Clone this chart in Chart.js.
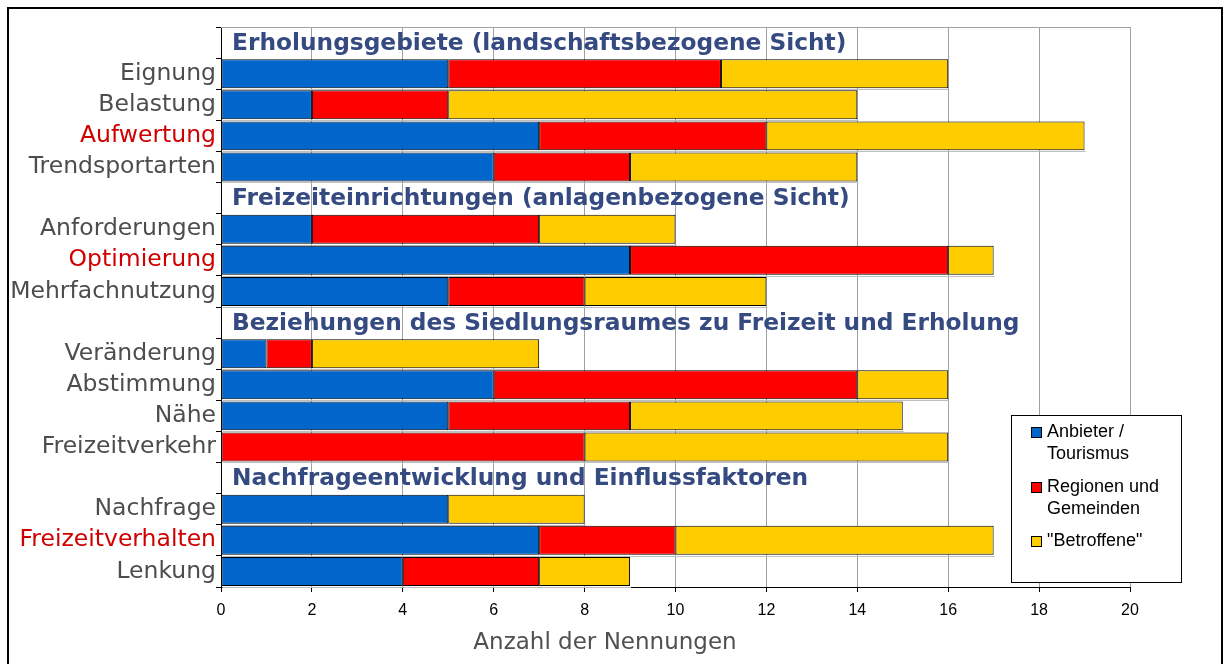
<!DOCTYPE html>
<html>
<head>
<meta charset="utf-8">
<script src="https://cdn.jsdelivr.net/npm/chart.js@4/dist/chart.umd.min.js"></script>
<style>
html,body{margin:0;padding:0;background:#fff;overflow:hidden;}
#wrap{position:absolute;left:0;top:0;width:1227px;height:664px;}
</style>
</head>
<body>
<div id="wrap"><canvas id="c" width="1227" height="664"></canvas></div>
<script>
// ---- data ----
const categories = [
  'Erholungsgebiete (landschaftsbezogene Sicht)',
  'Eignung', 'Belastung', 'Aufwertung', 'Trendsportarten',
  'Freizeiteinrichtungen (anlagenbezogene Sicht)',
  'Anforderungen', 'Optimierung', 'Mehrfachnutzung',
  'Beziehungen des Siedlungsraumes zu Freizeit und Erholung',
  'Veränderung', 'Abstimmung', 'Nähe', 'Freizeitverkehr',
  'Nachfrageentwicklung und Einflussfaktoren',
  'Nachfrage', 'Freizeitverhalten', 'Lenkung'
];
const headerRows = [0, 5, 9, 14];
const highlighted = ['Aufwertung', 'Optimierung', 'Freizeitverhalten'];
const seriesNames = [['Anbieter /', 'Tourismus'], ['Regionen und', 'Gemeinden'], ['"Betroffene"']];
const anbieter =  [null, 5, 2, 7, 6, null, 2, 9, 5, null, 1, 6, 5, 0, null, 5, 7, 4];
const regionen =  [null, 6, 3, 5, 3, null, 5, 7, 3, null, 1, 8, 4, 8, null, 0, 3, 3];
const betroffene = [null, 5, 9, 7, 5, null, 3, 1, 4, null, 5, 2, 6, 8, null, 3, 7, 2];
const xTicks = [0, 2, 4, 6, 8, 10, 12, 14, 16, 18, 20];
const xTitle = 'Anzahl der Nennungen';

const colors = ['#0066CC', '#FF0000', '#FFCC00'];

const extras = {
  id: 'extras',
  beforeDatasetsDraw(chart) {
    const ctx = chart.ctx, a = chart.chartArea;
    ctx.save();
    ctx.strokeStyle = '#A0A0A0';
    ctx.lineWidth = 1;
    ctx.beginPath();
    ctx.moveTo(a.left, a.top + 0.5);
    ctx.lineTo(a.right, a.top + 0.5);
    ctx.stroke();
    // bar shadows (from the library's bar elements)
    ctx.strokeStyle = '#BEBEBE';
    chart.data.datasets.forEach((ds, di) => {
      chart.getDatasetMeta(di).data.forEach((bar, i) => {
        const v = ds.data[i];
        if (v === null || v === 0) return;
        const p = bar.getProps(['x', 'y', 'base', 'height'], true);
        const yy = Math.round(p.y + p.height / 2) + 1.5;
        ctx.beginPath();
        ctx.moveTo(p.base + 1, yy);
        ctx.lineTo(p.x + 1, yy);
        ctx.stroke();
      });
    });
    ctx.restore();
  },
  afterDraw(chart) {
    const ctx = chart.ctx, a = chart.chartArea;
    const y = chart.scales.y;
    ctx.save();
    // group headers
    ctx.font = 'bold 23.3px "DejaVu Sans"';
    ctx.fillStyle = '#354A80';
    ctx.textAlign = 'left';
    ctx.textBaseline = 'middle';
    headerRows.forEach(i => {
      ctx.fillText(categories[i], a.left + 11, y.getPixelForValue(i) + 1);
    });
    // axis title
    ctx.font = '23px "DejaVu Sans"';
    ctx.fillStyle = '#505050';
    ctx.textAlign = 'center';
    ctx.fillText(xTitle, 605, 643);
    // legend
    const lx = 1011, ly = 415, lw = 170, lh = 167;
    ctx.fillStyle = '#fff';
    ctx.fillRect(lx, ly, lw, lh);
    ctx.strokeStyle = '#000';
    ctx.lineWidth = 1;
    ctx.strokeRect(lx + 0.5, ly + 0.5, lw, lh);
    ctx.font = '18px "Liberation Sans"';
    ctx.textAlign = 'left';
    const startY = [432, 487, 541];
    seriesNames.forEach((lines, k) => {
      ctx.fillStyle = colors[k];
      ctx.fillRect(1031, startY[k] - 5, 11, 11);
      ctx.strokeStyle = '#000';
      ctx.strokeRect(1031.5, startY[k] - 4.5, 10, 10);
      ctx.fillStyle = '#000';
      lines.forEach((t, j) => ctx.fillText(t, 1047, startY[k] + j * 22));
    });
    // frame
    ctx.strokeStyle = '#000';
    ctx.lineWidth = 2;
    ctx.strokeRect(8, 8, 1214, 720);
    ctx.restore();
  }
};

const mk = (label, data, i) => ({
  label: label.join(' '),
  data: data,
  backgroundColor: colors[i],
  borderColor: '#000',
  borderWidth: 1,
  borderSkipped: false,
  barPercentage: 0.93,
  categoryPercentage: 1.0
});

new Chart(document.getElementById('c'), {
  type: 'bar',
  data: {
    labels: categories,
    datasets: [
      mk(seriesNames[0], anbieter, 0),
      mk(seriesNames[1], regionen, 1),
      mk(seriesNames[2], betroffene, 2)
    ]
  },
  options: {
    indexAxis: 'y',
    responsive: false,
    devicePixelRatio: 1,
    animation: false,
    layout: { padding: { top: 27, right: 97, left: 0, bottom: 0 } },
    plugins: { legend: { display: false }, tooltip: { enabled: false } },
    scales: {
      x: {
        stacked: true,
        min: 0, max: 20,
        afterFit(s) { s.height = 77; },
        afterBuildTicks(s) { s.ticks = xTicks.map(v => ({ value: v })); },
        grid: { color: '#A0A0A0', tickColor: '#000', tickLength: 5, lineWidth: 1 },
        border: { color: '#000', width: 1 },
        ticks: { font: { family: 'Liberation Sans', size: 16 }, color: '#000', padding: 9, maxRotation: 0 }
      },
      y: {
        stacked: true,
        afterFit(s) { s.width = 221; },
        grid: { offset: true, drawOnChartArea: false, tickColor: '#000', tickLength: 5 },
        border: { color: '#000', width: 1 },
        ticks: {
          autoSkip: false,
          padding: 0,
          font: { family: 'DejaVu Sans', size: 23.5 },
          color: ctx => highlighted.includes(categories[ctx.index]) ? '#D00000' : '#4D4D4D',
          callback: (v, i) => headerRows.includes(i) ? '' : categories[i]
        }
      }
    }
  },
  plugins: [extras]
});
</script>
</body>
</html>
